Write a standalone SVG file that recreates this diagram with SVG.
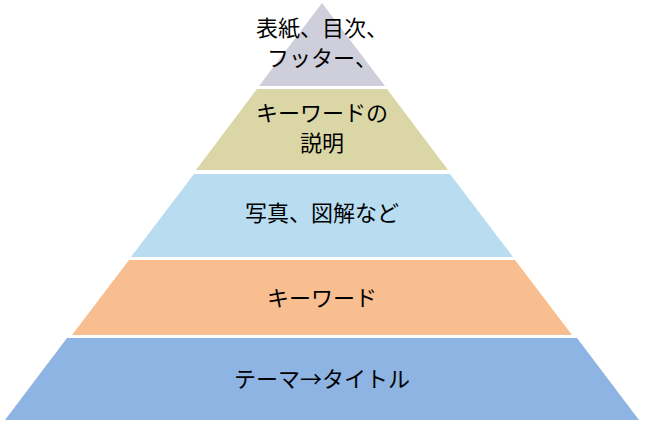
<svg xmlns="http://www.w3.org/2000/svg" width="645" height="429" viewBox="0 0 645 429">
<style>
.t{font-family:"Noto Sans CJK JP","Noto Sans",sans-serif;font-size:22px;fill:#000;text-anchor:middle}
</style>
<rect width="645" height="429" fill="#fff"/>
<g id="layer1">
<polygon points="322,3 385,86 259,86" fill="#cfcfdc"/>
<text class="t" x="322" y="36">表紙、目次、</text>
<text class="t" x="322" y="66">フッター、</text>
</g>
<g id="layer2">
<polygon points="257,89 387,89 448,170 196,170" fill="#dad6a6"/>
<text class="t" x="322" y="121">キーワードの</text>
<text class="t" x="322" y="151">説明</text>
</g>
<g id="layer3">
<polygon points="194,174 450,174 513,257 131,257" fill="#b8dcf0"/>
<text class="t" x="322" y="221">写真、図解など</text>
</g>
<g id="layer4">
<polygon points="129,260 515,260 572,335 72,335" fill="#f8be90"/>
<text class="t" x="322" y="306">キーワード</text>
</g>
<g id="layer5">
<polygon points="67,338 577,338 639,420 5,420" fill="#8db4e3"/>
<text class="t" x="322" y="387">テーマ→タイトル</text>
</g>
<g id="connectors"/>
</svg>
